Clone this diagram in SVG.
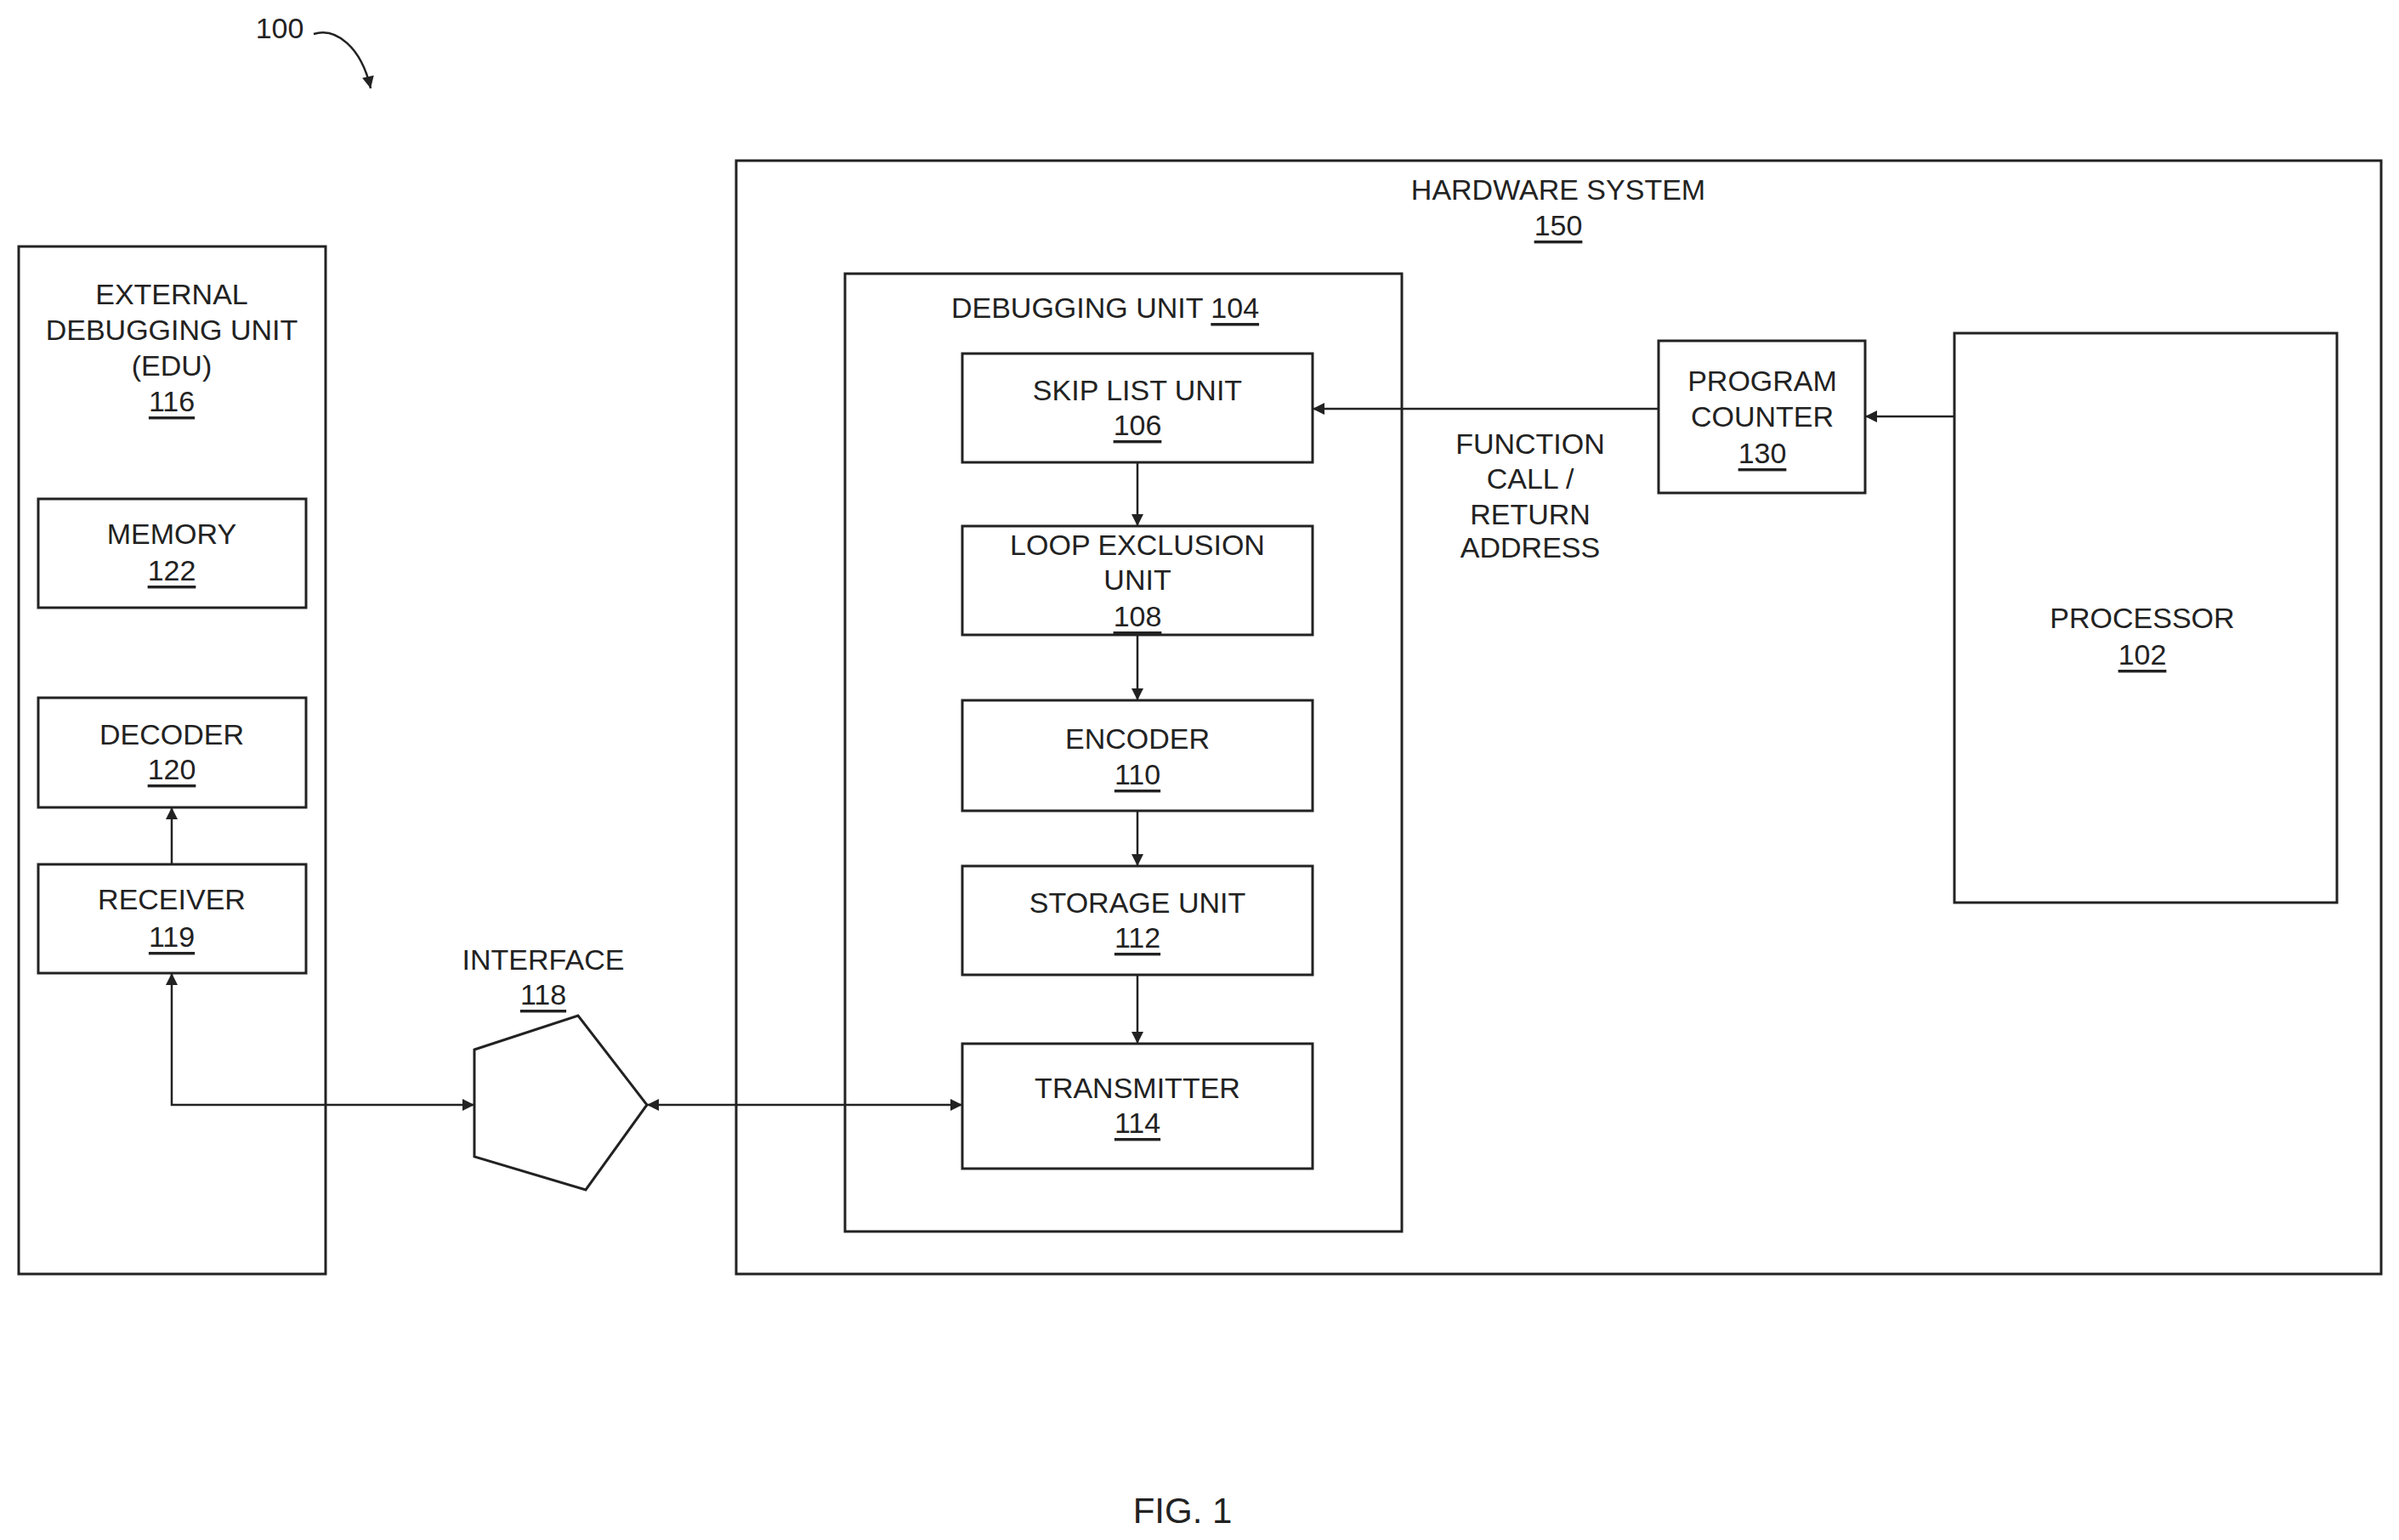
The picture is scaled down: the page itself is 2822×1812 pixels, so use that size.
<svg xmlns="http://www.w3.org/2000/svg" width="2822" height="1812" viewBox="0 0 2822 1812">
<style>
.b{fill:#fff;stroke:#222;stroke-width:3}
.c{fill:none;stroke:#222;stroke-width:2.5}
text{font-family:"Liberation Sans",Arial,sans-serif;font-size:34px;fill:#222;text-anchor:middle;dominant-baseline:central}
.u{text-decoration:underline}
</style>
<defs>
<marker id="a" viewBox="0 0 10 10" refX="10" refY="5" markerWidth="7" markerHeight="7" orient="auto-start-reverse" markerUnits="userSpaceOnUse" style="overflow:visible"><path d="M0,0L10,5L0,10z" fill="#222" transform="scale(2)translate(-5,-2.5)"/></marker>
</defs>
<rect width="2822" height="1812" fill="#fff"/>
<g id="n100"><text x="329" y="33">100</text></g>
<g id="edu"><rect class="b" x="22" y="290" width="361" height="1209"/>
<text x="202" y="346">EXTERNAL</text><text x="202" y="388">DEBUGGING UNIT</text><text x="202" y="430">(EDU)</text><text x="202" y="472" class="u">116</text></g>
<g id="memory"><rect class="b" x="45" y="587" width="315" height="128"/><text x="202" y="628">MEMORY</text><text x="202" y="671" class="u">122</text></g>
<g id="decoder"><rect class="b" x="45" y="821" width="315" height="129"/><text x="202" y="864">DECODER</text><text x="202" y="905" class="u">120</text></g>
<g id="receiver"><rect class="b" x="45" y="1017" width="315" height="128"/><text x="202" y="1058">RECEIVER</text><text x="202" y="1102" class="u">119</text></g>
<g id="hw"><rect class="b" x="866" y="189" width="1935" height="1310"/><text x="1833" y="223">HARDWARE SYSTEM</text><text x="1833" y="265" class="u">150</text></g>
<g id="dbg"><rect class="b" x="994" y="322" width="655" height="1127"/><text x="1300" y="362">DEBUGGING UNIT <tspan class="u">104</tspan></text></g>
<g id="skip"><rect class="b" x="1132" y="416" width="412" height="128"/><text x="1338" y="459">SKIP LIST UNIT</text><text x="1338" y="500" class="u">106</text></g>
<g id="loop"><rect class="b" x="1132" y="619" width="412" height="128"/><text x="1338" y="641">LOOP EXCLUSION</text><text x="1338" y="682">UNIT</text><text x="1338" y="725" class="u">108</text></g>
<g id="enc"><rect class="b" x="1132" y="824" width="412" height="130"/><text x="1338" y="869">ENCODER</text><text x="1338" y="911" class="u">110</text></g>
<g id="stor"><rect class="b" x="1132" y="1019" width="412" height="128"/><text x="1338" y="1062">STORAGE UNIT</text><text x="1338" y="1103" class="u">112</text></g>
<g id="tx"><rect class="b" x="1132" y="1228" width="412" height="147"/><text x="1338" y="1280">TRANSMITTER</text><text x="1338" y="1321" class="u">114</text></g>
<g id="pc"><rect class="b" x="1951" y="401" width="243" height="179"/><text x="2073" y="448">PROGRAM</text><text x="2073" y="490">COUNTER</text><text x="2073" y="533" class="u">130</text></g>
<g id="proc"><rect class="b" x="2299" y="392" width="450" height="670"/><text x="2520" y="727">PROCESSOR</text><text x="2520" y="770" class="u">102</text></g>
<g id="iface"><polygon class="b" points="558,1235 680,1195 761,1300 689,1400 558,1361"/><text x="639" y="1129">INTERFACE</text><text x="639" y="1170" class="u">118</text></g>
<g id="fcl"><text x="1800" y="522">FUNCTION</text><text x="1800" y="563">CALL /</text><text x="1800" y="605">RETURN</text><text x="1800" y="644">ADDRESS</text></g>
<g id="connectors">
<path class="c" d="M2299,490H2194" marker-end="url(#a)"/>
<path class="c" d="M1951,481H1544" marker-end="url(#a)"/>
<path class="c" d="M1338,544V619" marker-end="url(#a)"/>
<path class="c" d="M1338,747V824" marker-end="url(#a)"/>
<path class="c" d="M1338,954V1019" marker-end="url(#a)"/>
<path class="c" d="M1338,1147V1228" marker-end="url(#a)"/>
<path class="c" d="M202,1017V950" marker-end="url(#a)"/>
<path class="c" d="M202,1145V1300H558" marker-start="url(#a)" marker-end="url(#a)"/>
<path class="c" d="M761,1300H1132" marker-start="url(#a)" marker-end="url(#a)"/>
<path class="c" d="M369,40C395,32 425,55 436,104" marker-end="url(#a)"/>
</g>
<text x="1391" y="1777" style="font-size:42px">FIG. 1</text>
</svg>
